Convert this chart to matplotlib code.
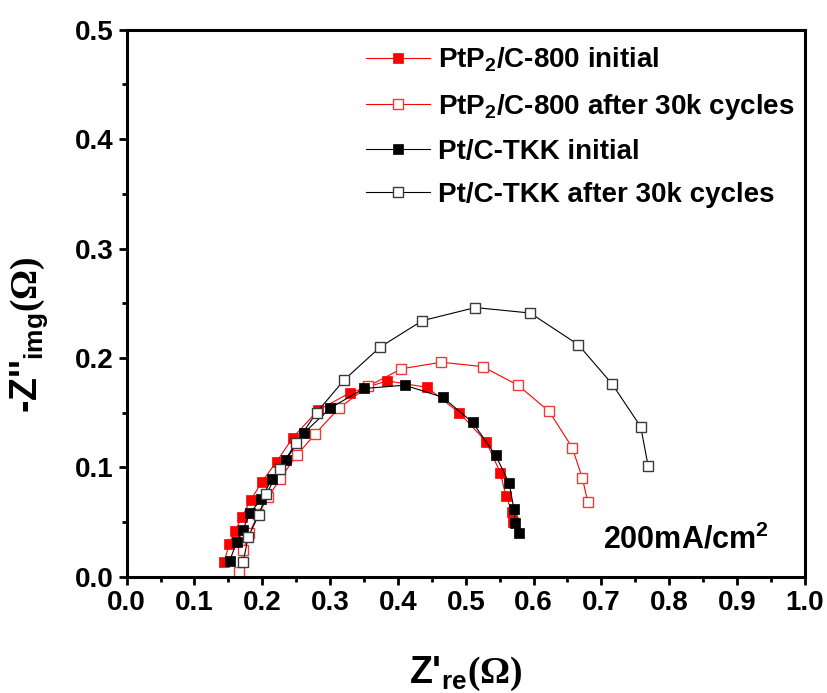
import matplotlib
matplotlib.use("Agg")
import matplotlib.pyplot as plt
from matplotlib.ticker import MultipleLocator

# PtP2/C-800 initial
pp_init_x = [0.144, 0.151, 0.160, 0.170, 0.183, 0.199, 0.221, 0.245, 0.282, 0.329,
             0.384, 0.443, 0.490, 0.530, 0.551, 0.559, 0.568, 0.569]
pp_init_y = [0.0137, 0.0296, 0.042, 0.0549, 0.070, 0.0863, 0.105, 0.127, 0.152, 0.168,
             0.179, 0.173, 0.150, 0.1235, 0.095, 0.074, 0.0595, 0.050]

# PtP2/C-800 after 30k cycles
pp_aged_x = [0.166, 0.172, 0.181, 0.194, 0.209, 0.226, 0.251, 0.278, 0.313, 0.356,
             0.405, 0.464, 0.525, 0.577, 0.623, 0.657, 0.672, 0.680]
pp_aged_y = [0.0046, 0.0244, 0.0397, 0.0573, 0.0726, 0.0894, 0.111, 0.1305, 0.154, 0.174,
             0.190, 0.196, 0.192, 0.175, 0.151, 0.118, 0.090, 0.068]

# Pt/C-TKK initial
tkk_init_x = [0.152, 0.162, 0.171, 0.182, 0.198, 0.214, 0.235, 0.261, 0.300, 0.350,
              0.410, 0.466, 0.510, 0.544, 0.564, 0.571, 0.573, 0.579]
tkk_init_y = [0.0144, 0.0315, 0.0427, 0.058, 0.0708, 0.089, 0.107, 0.131, 0.154, 0.172,
              0.175, 0.164, 0.141, 0.111, 0.0854, 0.0619, 0.0488, 0.0403]

# Pt/C-TKK after 30k cycles
tkk_aged_x = [0.172, 0.179, 0.195, 0.206, 0.226, 0.250, 0.280, 0.321, 0.374,
              0.436, 0.514, 0.595, 0.666, 0.716, 0.758, 0.769]
tkk_aged_y = [0.0137, 0.036, 0.0567, 0.0756, 0.0988, 0.1226, 0.150, 0.180, 0.210,
              0.234, 0.246, 0.241, 0.212, 0.176, 0.137, 0.101]

labels = ["PtP$_2$/C-800 initial",
          "PtP$_2$/C-800 after 30k cycles",
          "Pt/C-TKK initial",
          "Pt/C-TKK after 30k cycles"]

plt.rcParams['font.family'] = ['Liberation Sans', 'DejaVu Sans']
plt.rcParams['font.weight'] = 'bold'
plt.rcParams['axes.labelweight'] = 'bold'
plt.rcParams['mathtext.fontset'] = 'custom'
plt.rcParams['mathtext.rm'] = 'Liberation Sans:bold'
plt.rcParams['mathtext.bf'] = 'Liberation Sans:bold'
plt.rcParams['mathtext.it'] = 'Liberation Sans:bold'
plt.rcParams['mathtext.sf'] = 'Liberation Serif:bold'

fig = plt.figure(figsize=(8.28, 6.93), dpi=100)
ax = fig.add_axes([0.153, 0.168, 0.819, 0.789])

ax.plot(pp_init_x, pp_init_y, color="red", lw=0.8, marker="s", ms=7.5,
        mfc="red", mec="red", mew=0.5, label=labels[0])
ax.plot(pp_aged_x, pp_aged_y, color="red", lw=0.8, marker="s", ms=7.5,
        mfc="white", mec="#f03a3a", mew=1.0, label=labels[1])
ax.plot(tkk_init_x, tkk_init_y, color="black", lw=0.8, marker="s", ms=7.5,
        mfc="black", mec="black", mew=0.5, label=labels[2])
ax.plot(tkk_aged_x, tkk_aged_y, color="black", lw=0.8, marker="s", ms=7.5,
        mfc="white", mec="#3a3a3a", mew=1.0, label=labels[3])

ax.set_xlim(0.0, 1.0)
ax.set_ylim(0.0, 0.5)
ax.xaxis.set_major_locator(MultipleLocator(0.1))
ax.xaxis.set_minor_locator(MultipleLocator(0.05))
ax.yaxis.set_major_locator(MultipleLocator(0.1))
ax.yaxis.set_minor_locator(MultipleLocator(0.05))
ax.xaxis.set_major_formatter(plt.FormatStrFormatter("%.1f"))
ax.yaxis.set_major_formatter(plt.FormatStrFormatter("%.1f"))

for s in ax.spines.values():
    s.set_linewidth(2.2)
ax.tick_params(which="both", direction="out", width=2.0, labelsize=20,
               top=False, right=False)
ax.tick_params(which="major", length=6)
ax.tick_params(which="minor", length=3.5)

ax.set_xlabel("Z'$_{re}$$\\mathsf{(Ω)}$", fontsize=27)
ax.set_ylabel("-Z''$_{img}$$\\mathsf{(Ω)}$", fontsize=27)
ax.xaxis.set_label_coords(0.5, -0.143)
ax.yaxis.set_label_coords(-0.113, 0.442)

ax.text(0.702, 0.026, "200mA/cm$^2$", fontsize=22, va="baseline")

leg = ax.legend(loc="upper left", bbox_to_anchor=(366 / 828, 1 - 46 / 693),
                bbox_transform=fig.transFigure, frameon=False,
                fontsize=20, handlelength=2.3, handletextpad=0.3,
                labelspacing=0.62, borderpad=0, borderaxespad=0)

fig.savefig("out.png", dpi=100)
